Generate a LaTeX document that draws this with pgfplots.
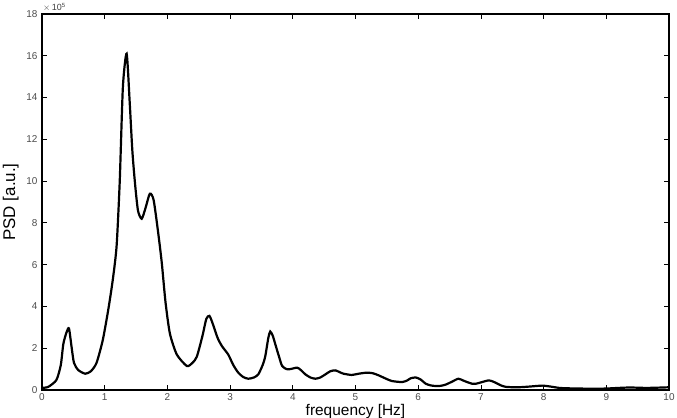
\documentclass[border=0pt]{standalone}
\usepackage{fontspec}
\setmainfont{Liberation Sans}
\usepackage{pgfplots}
\pgfplotsset{compat=1.18}
\begin{document}
\begin{tikzpicture}
\begin{axis}[
  at={(0,0)}, anchor=south west,
  scale only axis,
  width=627bp, height=376bp,
  xmin=0, xmax=10, ymin=0, ymax=18,
  xtick={0,1,...,10}, ytick={0,2,...,18},
  tick align=inside,
  major tick length=5bp,
  xtick pos=both, ytick pos=both,
  axis line style={line width=1.1bp},
  every tick/.style={line width=0.8bp, black},
  /pgf/number format/assume math mode=true,
  tick label style={font=\fontsize{10}{11}\selectfont, text=black!70},
  xticklabel style={yshift=0bp},
  yticklabel style={xshift=-1bp},
  xlabel={frequency [Hz]},
  ylabel={PSD [a.u.]},
  label style={font=\fontsize{17}{20}\selectfont},
  xlabel style={yshift=3.5bp, font=\fontsize{15.5}{17}\selectfont},
  ylabel style={yshift=1bp},
  clip mode=individual,
]
\addplot[black, line width=2.2bp, smooth, tension=0.4] coordinates {
(0.00,0.10) (0.10,0.15) (0.23,0.48) (0.30,1.2) (0.34,2.2) (0.39,2.75)
(0.43,2.95) (0.47,2.1) (0.51,1.3) (0.58,0.95) (0.69,0.78) (0.78,0.9)
(0.87,1.3) (0.97,2.4) (1.06,3.9) (1.13,5.3) (1.19,6.9) (1.24,10.0)
(1.29,14.5) (1.35,16.1) (1.40,13.7) (1.44,11.5) (1.48,10.0) (1.53,8.6)
(1.59,8.2) (1.65,8.7) (1.72,9.4) (1.78,9.1) (1.85,7.6) (1.91,6.1)
(1.97,4.2) (2.04,2.7) (2.15,1.7) (2.31,1.15) (2.40,1.3) (2.47,1.6)
(2.56,2.6) (2.62,3.4) (2.67,3.55) (2.72,3.2) (2.80,2.5) (2.87,2.1)
(2.97,1.7) (3.05,1.2) (3.13,0.83) (3.21,0.62) (3.29,0.54) (3.38,0.6)
(3.45,0.75) (3.52,1.2) (3.56,1.6) (3.61,2.5) (3.64,2.8) (3.68,2.6)
(3.72,2.2) (3.78,1.6) (3.83,1.15) (3.90,1.0) (3.96,1.0) (4.07,1.07)
(4.13,0.95) (4.20,0.75) (4.28,0.6) (4.36,0.54) (4.44,0.6) (4.52,0.75)
(4.60,0.9) (4.68,0.94) (4.75,0.85) (4.81,0.78) (4.94,0.72) (5.05,0.78)
(5.18,0.83) (5.28,0.8) (5.37,0.7) (5.48,0.55) (5.58,0.43) (5.74,0.38)
(5.82,0.45) (5.88,0.56) (5.96,0.6) (6.04,0.5) (6.12,0.3) (6.20,0.22)
(6.28,0.19) (6.36,0.2) (6.44,0.26) (6.54,0.4) (6.64,0.54) (6.72,0.45)
(6.78,0.38) (6.86,0.3) (6.92,0.3) (7.02,0.38) (7.12,0.46) (7.18,0.42)
(7.24,0.34) (7.32,0.22) (7.40,0.15) (7.55,0.13) (7.66,0.14) (7.80,0.17)
(7.98,0.21) (8.10,0.17) (8.25,0.1) (8.40,0.08) (8.57,0.07) (8.80,0.06)
(9.00,0.07) (9.20,0.1) (9.37,0.12) (9.50,0.11) (9.64,0.1) (9.80,0.11)
(10.00,0.13)
};
\end{axis}
\node[anchor=south west, font=\fontsize{9}{10}\selectfont, text=black!75, inner sep=0pt] at (1bp,378bp) {$\times$\,10\raisebox{0.7ex}{\fontsize{6}{6}\selectfont 5}};
\pgfresetboundingbox
\path (-42bp,-28bp) rectangle (635bp,390bp);
\end{tikzpicture}
\end{document}
